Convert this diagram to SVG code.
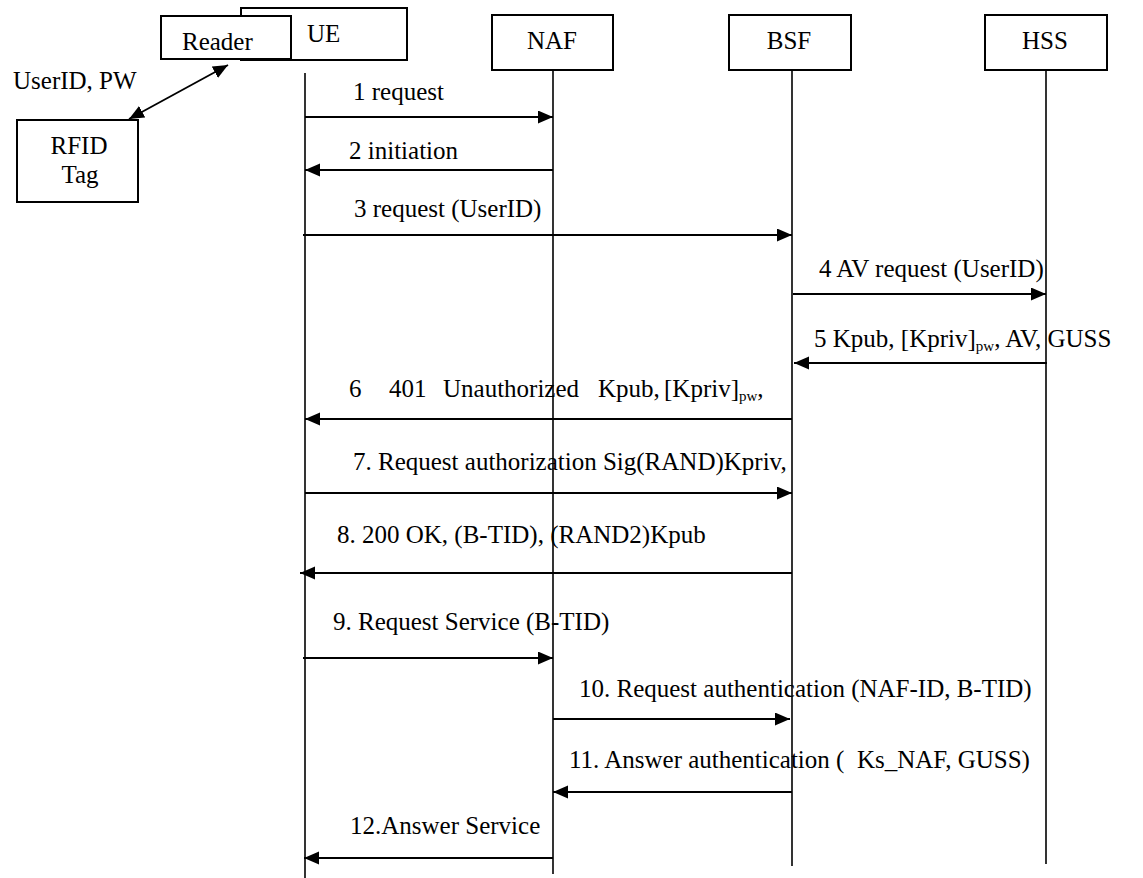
<svg xmlns="http://www.w3.org/2000/svg" width="1143" height="878" viewBox="0 0 1143 878">
<style>
  text { font-family: "Liberation Serif", "Times New Roman", serif; font-size: 25px; fill: #000; }
  .box { fill: #fff; stroke: #000; stroke-width: 2; }
  .life { stroke: #000; stroke-width: 1.6; fill: none; }
  .msg { stroke: #000; stroke-width: 1.8; fill: none; marker-end: url(#ah); }
  .sub { font-size: 15px; }
  .hdr { text-anchor: middle; }
</style>
<defs>
  <marker id="ah" markerUnits="userSpaceOnUse" markerWidth="16" markerHeight="14" refX="15" refY="6.5" orient="auto-start-reverse">
    <path d="M0,0 L15,6.5 L0,13 z" fill="#000"/>
  </marker>
</defs>

<g id="lifelines">
  <line class="life" x1="305" y1="73" x2="305" y2="878"/>
  <line class="life" x1="553" y1="71" x2="553" y2="874"/>
  <line class="life" x1="792" y1="71" x2="792" y2="866"/>
  <line class="life" x1="1046" y1="71" x2="1046" y2="864"/>
</g>

<g id="node-ue">
  <rect class="box" x="241" y="8" width="166" height="52"/>
  <text x="307" y="42">UE</text>
</g>
<g id="node-reader">
  <rect class="box" x="161" y="16" width="130" height="43"/>
  <text x="182" y="50">Reader</text>
</g>
<g id="node-naf">
  <rect class="box" x="492" y="15" width="121" height="55"/>
  <text class="hdr" x="552" y="49">NAF</text>
</g>
<g id="node-bsf">
  <rect class="box" x="729" y="15" width="122" height="55"/>
  <text class="hdr" x="789" y="49">BSF</text>
</g>
<g id="node-hss">
  <rect class="box" x="985" y="15" width="122" height="55"/>
  <text class="hdr" x="1045" y="49">HSS</text>
</g>
<g id="node-rfid">
  <rect class="box" x="17" y="120" width="121" height="82"/>
  <text class="hdr" x="79" y="154">RFID</text>
  <text class="hdr" x="80" y="183">Tag</text>
</g>

<g id="connectors">
  <line class="msg" style="marker-start:url(#ah)" x1="129" y1="119" x2="228" y2="65"/>
  <line class="msg" x1="305" y1="117" x2="553" y2="117"/>
  <line class="msg" x1="553" y1="170" x2="305" y2="170"/>
  <line class="msg" x1="303" y1="235" x2="792" y2="235"/>
  <line class="msg" x1="793" y1="294" x2="1046" y2="294"/>
  <line class="msg" x1="1047" y1="363" x2="794" y2="363"/>
  <line class="msg" x1="792" y1="419" x2="305" y2="419"/>
  <line class="msg" x1="305" y1="493" x2="792" y2="493"/>
  <line class="msg" x1="792" y1="573" x2="300" y2="573"/>
  <line class="msg" x1="303" y1="658" x2="553" y2="658"/>
  <line class="msg" x1="553" y1="719" x2="790" y2="719"/>
  <line class="msg" x1="792" y1="792" x2="553" y2="792"/>
  <line class="msg" x1="553" y1="858" x2="304" y2="858"/>
</g>

<g id="labels">
  <text x="13" y="89">UserID, PW</text>
  <text x="353" y="100">1 request</text>
  <text x="349" y="159">2 initiation</text>
  <text x="354" y="217">3 request (UserID)</text>
  <text x="819" y="277">4 AV request (UserID)</text>
  <text x="814" y="347">5 Kpub, [Kpriv]<tspan class="sub" dy="4">pw</tspan><tspan dy="-4">, AV, GUSS</tspan></text>
  <text y="397"><tspan x="349">6</tspan><tspan x="389">401</tspan><tspan x="443">Unauthorized</tspan><tspan x="598">Kpub,</tspan><tspan x="664">[Kpriv]</tspan><tspan class="sub" dy="4">pw</tspan><tspan dy="-4">,</tspan></text>
  <text x="353" y="470">7. Request authorization Sig(RAND)Kpriv,</text>
  <text x="337" y="543">8. 200 OK, (B-TID), (RAND2)Kpub</text>
  <text x="333" y="630">9. Request Service (B-TID)</text>
  <text x="579" y="697">10. Request authentication (NAF-ID, B-TID)</text>
  <text x="569" y="768" xml:space="preserve">11. Answer authentication (  Ks_NAF, GUSS)</text>
  <text x="350" y="834">12.Answer Service</text>
</g>
</svg>
